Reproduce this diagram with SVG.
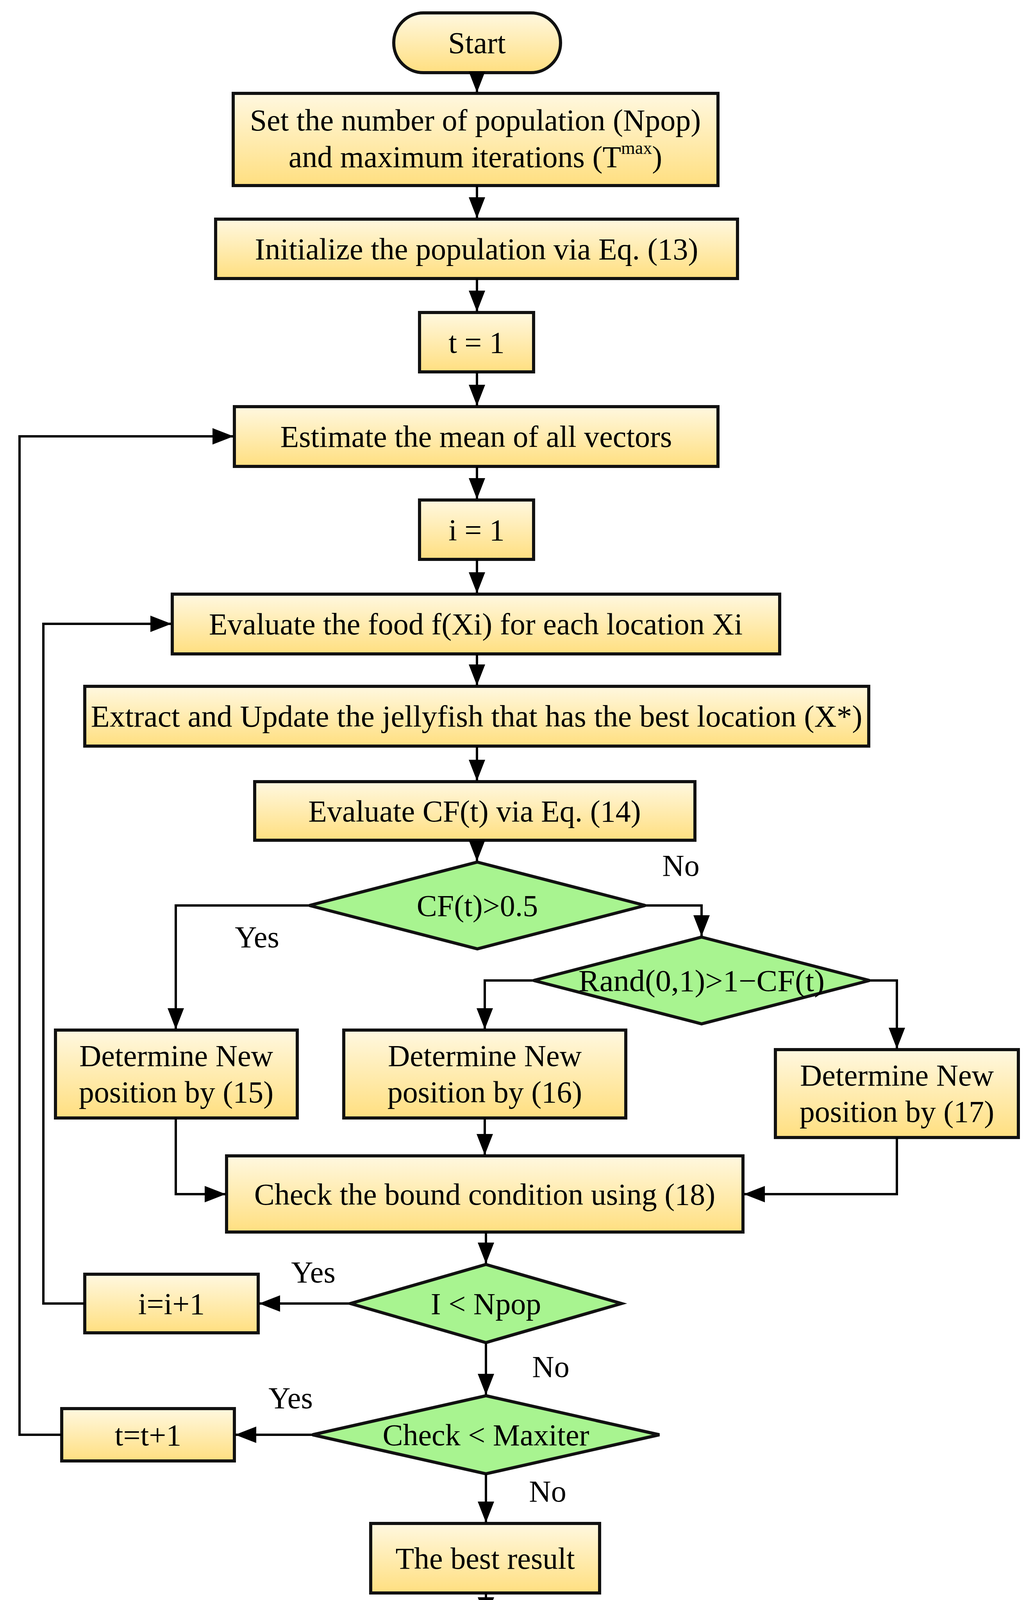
<svg xmlns="http://www.w3.org/2000/svg" width="2624" height="4342" viewBox="0 0 2624 4342">
<defs>
<linearGradient id="yg" x1="0" y1="0" x2="0" y2="1"><stop offset="0" stop-color="#FFF8E0"/><stop offset="1" stop-color="#FFDF80"/></linearGradient>
<marker id="ar" markerWidth="10" markerHeight="10" refX="9" refY="5" orient="auto" markerUnits="strokeWidth"><path d="M0,1.5 L9,5 L0,8.5 Z" fill="#000"/></marker>
</defs>
<style>
.b{fill:url(#yg);stroke:#111;stroke-width:8}
.d{fill:#A8F490;stroke:#111;stroke-width:8}
.t{font-family:"Liberation Serif",serif;font-size:78px;fill:#000;text-anchor:middle}
.c{fill:none;stroke:#000;stroke-width:6;marker-end:url(#ar)}
</style>
<rect width="2624" height="4342" fill="#fff"/>
<g id="start"><rect class="b" x="1008" y="33" width="427" height="153" rx="76"/><text class="t" x="1221" y="136">Start</text></g>
<g id="set"><rect class="b" x="597" y="239" width="1241" height="236"/><text class="t" x="1217" y="334">Set the number of population (Npop)</text><text class="t" x="1217" y="428">and maximum iterations (T<tspan font-size="46" dy="-34">max</tspan><tspan dy="34">)</tspan></text></g>
<g id="init"><rect class="b" x="552" y="561" width="1336" height="152"/><text class="t" x="1220" y="664">Initialize the population via Eq. (13)</text></g>
<g id="t1"><rect class="b" x="1074" y="800" width="292" height="152"/><text class="t" x="1220" y="903">t = 1</text></g>
<g id="est"><rect class="b" x="600" y="1041" width="1238" height="153"/><text class="t" x="1219" y="1144">Estimate the mean of all vectors</text></g>
<g id="i1"><rect class="b" x="1074" y="1280" width="292" height="152"/><text class="t" x="1220" y="1383">i = 1</text></g>
<g id="evalf"><rect class="b" x="441" y="1521" width="1555" height="153"/><text class="t" x="1218" y="1624">Evaluate the food f(Xi) for each location Xi</text></g>
<g id="extract"><rect class="b" x="217" y="1757" width="2007" height="153"/><text class="t" x="1220" y="1860" textLength="1975" lengthAdjust="spacingAndGlyphs">Extract and Update the jellyfish that has the best location (X*)</text></g>
<g id="evalcf"><rect class="b" x="652" y="2001" width="1127" height="150"/><text class="t" x="1215" y="2103">Evaluate CF(t) via Eq. (14)</text></g>
<g id="dcf"><polygon class="d" points="1222,2207 1652,2318 1222,2429 792,2318"/><text class="t" x="1222" y="2345">CF(t)&gt;0.5</text></g>
<g id="drand"><polygon class="d" points="1796,2399 2226,2510 1796,2621 1366,2510"/><text class="t" x="1796" y="2537" textLength="630" lengthAdjust="spacingAndGlyphs">Rand(0,1)&gt;1−CF(t)</text></g>
<g id="b15"><rect class="b" x="142" y="2637" width="619" height="225"/><text class="t" x="451" y="2729">Determine New</text><text class="t" x="451" y="2822">position by (15)</text></g>
<g id="b16"><rect class="b" x="880" y="2637" width="722" height="225"/><text class="t" x="1241" y="2729">Determine New</text><text class="t" x="1241" y="2822">position by (16)</text></g>
<g id="b17"><rect class="b" x="1985" y="2687" width="622" height="225"/><text class="t" x="2296" y="2779">Determine New</text><text class="t" x="2296" y="2872">position by (17)</text></g>
<g id="check"><rect class="b" x="580" y="2959" width="1322" height="195"/><text class="t" x="1241" y="3084">Check the bound condition using (18)</text></g>
<g id="dnpop"><polygon class="d" points="1244,3237 1591,3337 1244,3437 897,3337"/><text class="t" x="1244" y="3364">I &lt; Npop</text></g>
<g id="ii"><rect class="b" x="217" y="3262" width="444" height="150"/><text class="t" x="439" y="3364">i=i+1</text></g>
<g id="dmax"><polygon class="d" points="1244,3573 1688,3673 1244,3773 800,3673"/><text class="t" x="1244" y="3700">Check &lt; Maxiter</text></g>
<g id="tt"><rect class="b" x="158" y="3606" width="442" height="134"/><text class="t" x="379" y="3700">t=t+1</text></g>
<g id="best"><rect class="b" x="949" y="3900" width="586" height="178"/><text class="t" x="1242" y="4016">The best result</text></g>
<g id="end"><rect class="b" x="1091" y="4145" width="300" height="175" rx="87"/><text class="t" x="1241" y="4259">End</text></g>
<g id="connectors">
<path class="c" d="M1221,186 V237"/>
<path class="c" d="M1221,475 V559"/>
<path class="c" d="M1221,713 V798"/>
<path class="c" d="M1221,952 V1039"/>
<path class="c" d="M1221,1194 V1278"/>
<path class="c" d="M1221,1432 V1519"/>
<path class="c" d="M1221,1674 V1755"/>
<path class="c" d="M1221,1910 V1999"/>
<path class="c" d="M1221,2151 V2205"/>
<path class="c" d="M792,2318 H450 V2635"/>
<path class="c" d="M1652,2318 H1796 V2397"/>
<path class="c" d="M1366,2510 H1241 V2635"/>
<path class="c" d="M2226,2510 H2296 V2685"/>
<path class="c" d="M450,2862 V3057 H578"/>
<path class="c" d="M1241,2862 V2957"/>
<path class="c" d="M2296,2912 V3057 H1904"/>
<path class="c" d="M1244,3154 V3235"/>
<path class="c" d="M897,3337 H663"/>
<path class="c" d="M217,3337 H111 V1597 H439"/>
<path class="c" d="M1244,3437 V3571"/>
<path class="c" d="M800,3673 H602"/>
<path class="c" d="M158,3673 H50 V1117 H598"/>
<path class="c" d="M1244,3773 V3898"/>
<path class="c" d="M1244,4078 V4143"/>
</g>
<g id="labels">
<text class="t" x="1743" y="2242">No</text>
<text class="t" x="658" y="2425">Yes</text>
<text class="t" x="802" y="3283">Yes</text>
<text class="t" x="1410" y="3525">No</text>
<text class="t" x="744" y="3605">Yes</text>
<text class="t" x="1402" y="3844">No</text>
</g>
</svg>
